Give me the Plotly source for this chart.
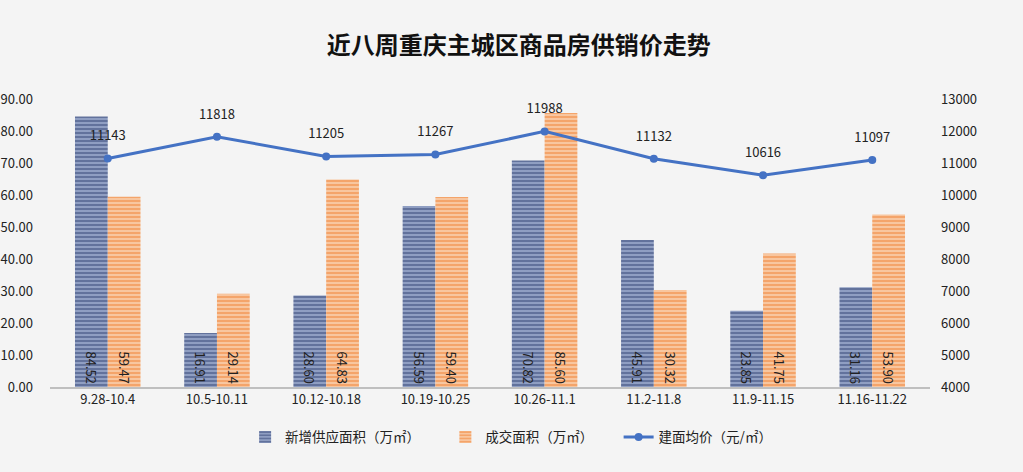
import plotly.graph_objects as go

categories = ["9.28-10.4", "10.5-10.11", "10.12-10.18", "10.19-10.25", "10.26-11.1", "11.2-11.8", "11.9-11.15", "11.16-11.22"]
supply = [84.52, 16.91, 28.60, 56.59, 70.82, 45.91, 23.85, 31.16]
deals = [59.47, 29.14, 64.83, 59.40, 85.60, 30.32, 41.75, 53.90]
price = [11143, 11818, 11205, 11267, 11988, 11132, 10616, 11097]

FONT = "Noto Sans CJK SC"

fig = go.Figure()
fig.add_trace(go.Bar(
    x=categories, y=supply, name="新增供应面积（万㎡）\u3000\u3000",
    marker=dict(color="#7587b3", line=dict(width=0),
                pattern=dict(shape="-", fgcolor="#2a3c6c", bgcolor="#9aa9cc", size=4, solidity=0.6)),
    text=[f"{v:.2f}" for v in supply], textposition="inside", insidetextanchor="start",
    textangle=90, textfont=dict(size=13, color="#222222", family=FONT), constraintext="none",
))
fig.add_trace(go.Bar(
    x=categories, y=deals, name="成交面积（万㎡）\u3000\u3000",
    marker=dict(color="#f4a46a", line=dict(width=0),
                pattern=dict(shape="-", fgcolor="#ef7f2f", bgcolor="#f9c9a4", size=4, solidity=0.55)),
    text=[f"{v:.2f}" for v in deals], textposition="inside", insidetextanchor="start",
    textangle=90, textfont=dict(size=13, color="#222222", family=FONT), constraintext="none",
))
fig.add_trace(go.Scatter(
    x=categories, y=price, name="建面均价（元/㎡）", yaxis="y2",
    mode="lines+markers", line=dict(color="#4472c4", width=3),
    marker=dict(size=8, color="#4472c4"),
))
fig.add_trace(go.Scatter(
    x=categories, y=price, yaxis="y2", mode="text+markers", showlegend=False, hoverinfo="skip",
    marker=dict(size=22, color="rgba(0,0,0,0)"),
    text=[str(v) for v in price], textposition="top center",
    textfont=dict(size=13, color="#222222", family=FONT),
))

fig.update_layout(
    width=1023, height=472,
    paper_bgcolor="#f4f4f4", plot_bgcolor="#f4f4f4",
    margin=dict(l=50, r=93, t=99, b=85, autoexpand=False),
    title=dict(text="<b>近八周重庆主城区商品房供销价走势</b>", x=0.507, xanchor="center", y=0.903, yanchor="middle",
               font=dict(size=24, color="#111111", family=FONT)),
    barmode="group", bargap=0.4, bargroupgap=0,
    font=dict(family=FONT, size=13, color="#222222"),
    xaxis=dict(showline=True, linecolor="#bfbfbf", linewidth=1.5, showgrid=False, ticks="",
               automargin=False, tickfont=dict(size=13, color="#222222")),
    yaxis=dict(range=[0, 90], dtick=10, tickformat=".2f", showgrid=False, zeroline=False, automargin=False,
               showline=False, ticklabelstandoff=16, tickfont=dict(size=13, color="#222222")),
    yaxis2=dict(range=[4000, 13000], dtick=1000, tickformat="d", overlaying="y", side="right", showgrid=False,
                zeroline=False, showline=False, automargin=False, ticklabelstandoff=10,
                tickfont=dict(size=13, color="#222222")),
    legend=dict(orientation="h", x=0.524, xanchor="center", y=-0.174, yanchor="middle",
                font=dict(size=13.5, color="#222222", family=FONT), itemwidth=30,
                traceorder="normal"),
    showlegend=True,
)

fig.write_html("out.html", config={"displayModeBar": False},
               post_script="document.body.style.margin='0';document.body.style.overflow='hidden';")
